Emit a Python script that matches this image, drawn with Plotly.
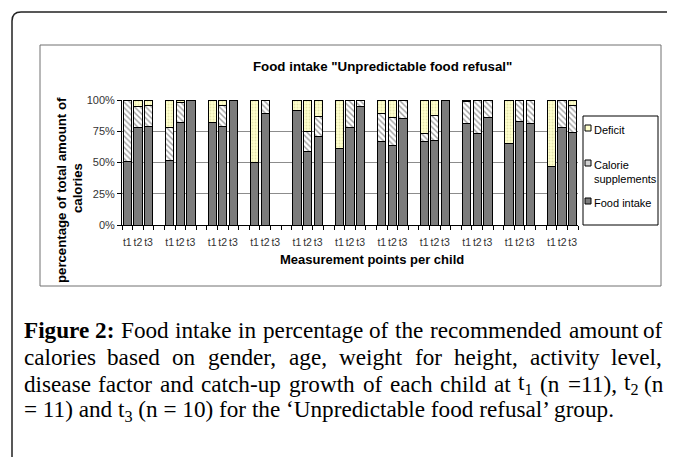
import re
import plotly.graph_objects as go

# ---------------- data (percent of recommended calories) ----------------
children = [f"Child {i}" for i in range(1, 12)]
time_points = ["t1", "t2", "t3"]

food_intake = [
    [51, 78, 79],
    [52, 82, 100],
    [82, 79, 100],
    [50, 89, None],
    [92, 59, 71],
    [61, 78, 95],
    [67, 64, 85],
    [67, 68, 100],
    [81, 73, 86],
    [65, 83, 81],
    [47, 78, 74],
]
calorie_supplements = [
    [49, 17, 17],
    [26, 16, 0],
    [0, 17, 0],
    [0, 11, None],
    [0, 16, 16],
    [0, 22, 5],
    [22, 22, 15],
    [6, 20, 0],
    [18, 27, 14],
    [0, 17, 19],
    [0, 22, 22],
]
deficit = [
    [0, 5, 4],
    [22, 2, 0],
    [18, 4, 0],
    [50, 0, None],
    [8, 25, 13],
    [39, 0, 0],
    [11, 14, 0],
    [27, 12, 0],
    [1, 0, 0],
    [35, 0, 0],
    [53, 0, 4],
]
y_ticks = [0, 25, 50, 75, 100]
y_tick_labels = ["0%", "25%", "50%", "75%", "100%"]

# slot index: 3 measurement points + 1 empty slot per child
xs, labels = [], []
for i, _ in enumerate(children):
    for j, t in enumerate(time_points):
        xs.append(i * 4 + j)
        labels.append(t)


def flat(series):
    out = []
    for row in series:
        for v in row:
            out.append(None if (v is None or v == 0) else v)
    return out


FONT = "Arial, Liberation Sans, sans-serif"
SERIF = "Liberation Serif, Times New Roman, serif"
OFF = 8                       # page body margin
W, H = 675 - OFF, 465 - 2 * OFF
L, R, T, B = 122, 578, 100, 225   # plot area in screen pixels


def px(x):
    return (x - L) / (R - L)


def py(y):
    return (B - y) / (B - T)


fig = go.Figure()
line = dict(color="black", width=1)
fig.add_trace(go.Bar(x=xs, y=flat(food_intake), name="Food intake",
                     marker=dict(color="#7c7c7c", line=line), width=0.78))
fig.add_trace(go.Bar(x=xs, y=flat(calorie_supplements), name="Calorie supplements",
                     marker=dict(color="white", line=line,
                                 pattern=dict(shape="\\", fgcolor="#404040",
                                              size=4, solidity=0.35)), width=0.78))
fig.add_trace(go.Bar(x=xs, y=flat(deficit), name="Deficit",
                     marker=dict(color="#FFFFCC", line=line,
                                 pattern=dict(shape=".", fgcolor="#c9c98f",
                                              size=3, solidity=0.3)), width=0.78))

fig.update_layout(
    width=W, height=H, autosize=False,
    margin=dict(l=L - OFF, r=W - (R - OFF), t=T - OFF, b=H - (B - OFF), pad=0),
    barmode="stack", bargap=0.2,
    paper_bgcolor="white", plot_bgcolor="white",
    showlegend=False,
    font=dict(family=FONT, size=10, color="#222"),
    xaxis=dict(range=[-0.5, 42.5], tickmode="array", tickvals=xs, ticktext=labels,
               tickangle=0, ticks="outside", ticklen=7, tickcolor="rgba(0,0,0,0)",
               showgrid=False, zeroline=False,
               showline=True, linecolor="black", linewidth=1,
               tickfont=dict(family=FONT, size=10.5, color="#333"),
               minor=dict(tickmode="linear", tick0=-0.5, dtick=1, ticks="outside",
                          ticklen=4, tickcolor="black", showgrid=False)),
    yaxis=dict(range=[0, 100], tickmode="array", tickvals=y_ticks, ticktext=y_tick_labels,
               ticks="outside", ticklen=4, tickcolor="black",
               showgrid=True, gridcolor="#8c8c8c", gridwidth=1,
               zeroline=False, showline=True, linecolor="black", linewidth=1,
               tickfont=dict(family=FONT, size=11, color="#333")),
)

shapes = []
# outer figure frame (rounded top-left corner, runs off right and bottom)
r = 9
shapes.append(dict(type="path", xref="paper", yref="paper",
                   path=(f"M {px(12)},{py(480)} L {px(12)},{py(12 + r)} "
                         f"Q {px(12)},{py(12)} {px(12 + r)},{py(12)} L {px(690)},{py(12)}"),
                   line=dict(color="#222", width=1.5)))
# chart box
shapes.append(dict(type="rect", xref="paper", yref="paper",
                   x0=px(40), x1=px(661), y0=py(286), y1=py(45),
                   line=dict(color="#707070", width=1)))
# legend box
shapes.append(dict(type="rect", xref="paper", yref="paper",
                   x0=px(583), x1=px(658), y0=py(225), y1=py(116),
                   line=dict(color="black", width=1), fillcolor="white"))
legend_items = [("Deficit", "#FFFFCC", 128), ("Calorie<br>supplements", "#d0d0d0", 163),
                ("Food intake", "#7c7c7c", 201)]
anns = []
for name, col, yc in legend_items:
    shapes.append(dict(type="rect", xref="paper", yref="paper",
                       x0=px(585), x1=px(591), y0=py(yc + 3), y1=py(yc - 3),
                       line=dict(color="black", width=1), fillcolor=col))
    anns.append(dict(text=name, xref="paper", yref="paper", x=px(592),
                     y=py(yc - 6), xanchor="left", yanchor="top", align="left",
                     showarrow=False, font=dict(family=FONT, size=11, color="black")))

fig.update_layout(shapes=shapes)

anns += [
    dict(text='<b>Food intake "Unpredictable food refusal"</b>', xref="paper", yref="paper",
         x=px(382), y=py(66), xanchor="center", yanchor="middle", showarrow=False,
         font=dict(family=FONT, size=13.3, color="black")),
    dict(text="<b>Measurement points per child</b>", xref="paper", yref="paper",
         x=px(372), y=py(259), xanchor="center", yanchor="middle", showarrow=False,
         font=dict(family=FONT, size=13, color="black")),
    dict(text="<b>percentage of total amount of</b>", xref="paper", yref="paper",
         x=px(61), y=py(190), xanchor="center", yanchor="middle", showarrow=False,
         textangle=-90, font=dict(family=FONT, size=13.2, color="black")),
    dict(text="<b>calories</b>", xref="paper", yref="paper",
         x=px(77), y=py(188), xanchor="center", yanchor="middle", showarrow=False,
         textangle=-90, font=dict(family=FONT, size=13.2, color="black")),
]

# ---------------- caption (justified like the source page) ----------------
TR = {' ': 250, 'a': 444, 'b': 500, 'c': 444, 'd': 500, 'e': 444, 'f': 333, 'g': 500,
      'h': 500, 'i': 278, 'j': 278, 'k': 500, 'l': 278, 'm': 778, 'n': 500, 'o': 500,
      'p': 500, 'q': 500, 'r': 333, 's': 389, 't': 278, 'u': 500, 'v': 500, 'w': 722,
      'x': 500, 'y': 500, 'z': 444, ',': 250, '.': 250, ':': 278, '(': 333, ')': 333,
      '=': 564, '-': 333, '\u2018': 333, '\u2019': 333, 'F': 556, 'U': 722}
TB = {'F': 611, 'i': 278, 'g': 500, 'u': 556, 'r': 444, 'e': 444, ':': 333}
for d in "0123456789":
    TR[d] = 500


def text_width(html, size):
    w = 0.0
    mode_b = mode_s = False
    for part in re.split(r"(<[^>]+>)", html):
        if part.startswith("<"):
            tag = part.strip("<>/")
            val = not part.startswith("</")
            if tag == "b":
                mode_b = val
            elif tag == "sub":
                mode_s = val
            continue
        for ch in part:
            cw = (TB.get(ch, TR.get(ch, 500)) if mode_b else TR.get(ch, 500)) / 1000.0
            w += cw * size * (0.7 if mode_s else 1.0)
    return w * 1.02


CAP_SIZE = 23.2
CAP_X0 = 22
caption = [
    "<b>Figure 2:</b> Food intake in percentage of the recommended amount of",
    "calories based on gender, age, weight for height, activity level,",
    "disease factor and catch-up growth of each child at t<sub>1</sub> (n =11), t<sub>2</sub> (n",
    "= 11) and t<sub>3</sub> (n = 10) for the \u2018Unpredictable food refusal\u2019 group.",
]
line_end = [665, 664, 666, None]   # right edge of justified lines (None = ragged)
for k, txt in enumerate(caption):
    yline = 330 + 27 * k
    if line_end[k] is None:
        anns.append(dict(text=txt, xref="paper", yref="paper", x=px(CAP_X0), y=py(yline),
                         xanchor="left", yanchor="middle", showarrow=False, align="left",
                         font=dict(family=SERIF, size=CAP_SIZE, color="black")))
        continue
    words = txt.replace("<b>Figure 2:</b>", "<b>Figure\u00a02:</b>").split(" ")
    words = [w.replace("\u00a0", " ") for w in words]
    widths = [text_width(w, CAP_SIZE) for w in words]
    gap = (line_end[k] - CAP_X0 - sum(widths)) / (len(words) - 1)
    xcur = CAP_X0
    n = len(words)
    for idx, (w, wd) in enumerate(zip(words, widths)):
        if idx == 0:
            xa, xpos = "left", xcur
        elif idx == n - 1:
            xa, xpos = "right", line_end[k]
        else:
            xa, xpos = "center", xcur + wd / 2
        anns.append(dict(text=w, xref="paper", yref="paper", x=px(xpos), y=py(yline),
                         xanchor=xa, yanchor="middle", showarrow=False,
                         font=dict(family=SERIF, size=CAP_SIZE, color="black")))
        xcur += wd + gap

fig.update_layout(annotations=anns)
fig.write_html("out.html")
